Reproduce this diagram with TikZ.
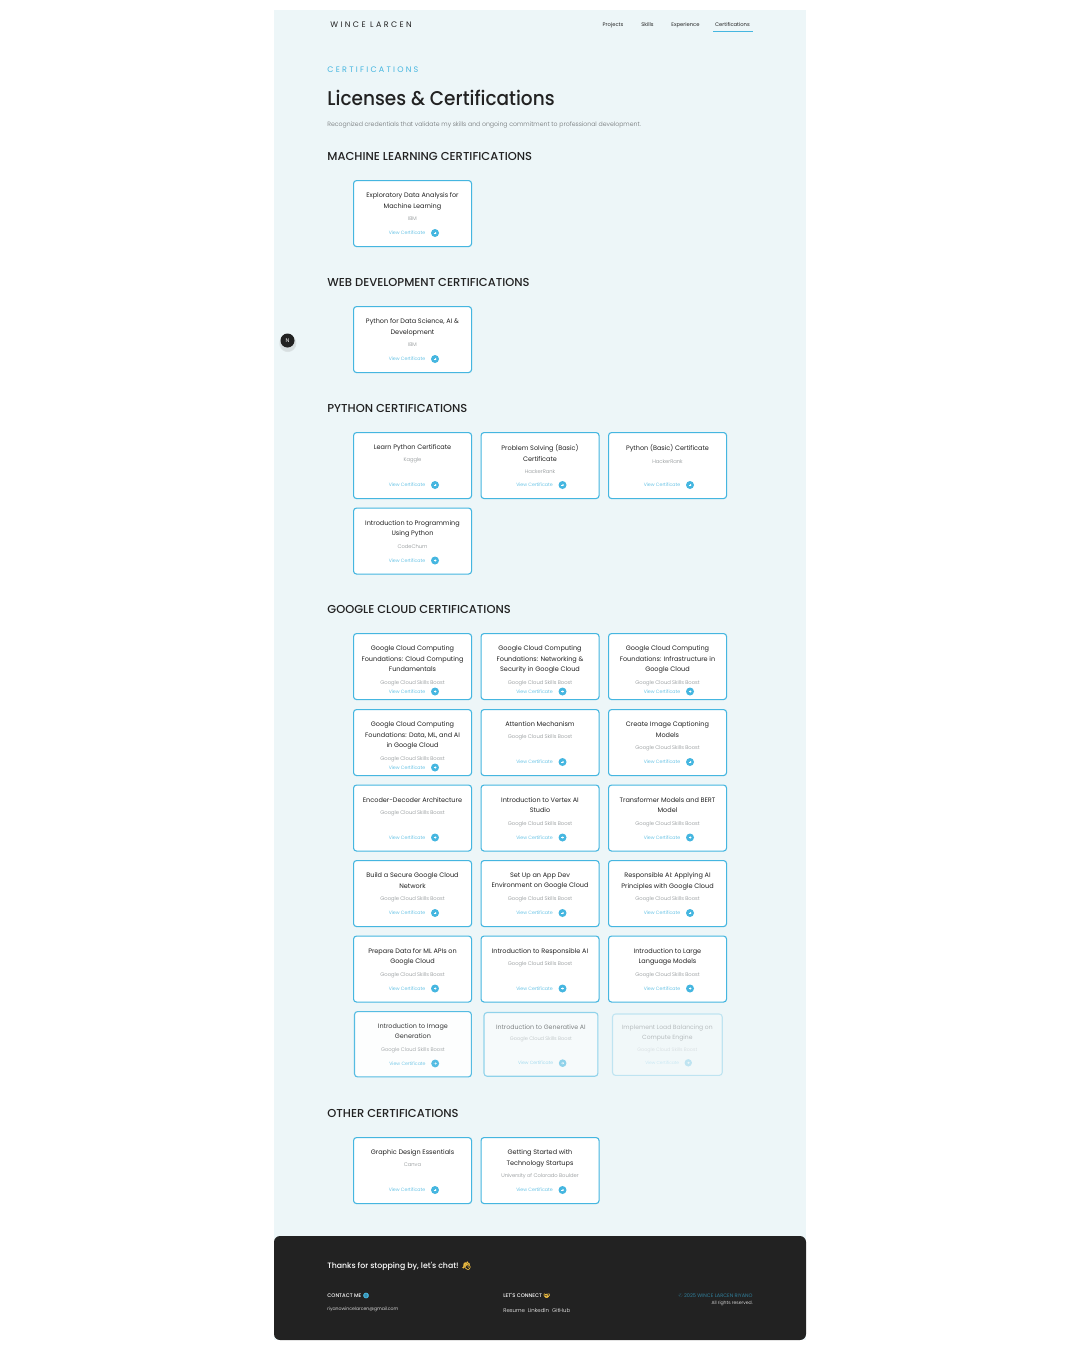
\documentclass[tikz,border=0pt]{standalone}
\usepackage{fontspec}
\setmainfont{Poppins}
\newfontfamily\mediumfont{Poppins Medium}
\newfontfamily\lightfont{Poppins Light}
\newfontfamily\emojifont[FakeBold=2]{Noto Emoji}
\usetikzlibrary{arrows.meta, positioning, shadows}
\definecolor{panelbg}{HTML}{EDF6F8}
\definecolor{inkdark}{HTML}{222222}
\definecolor{accent}{HTML}{45B6E0}
\definecolor{issuergray}{HTML}{8A8F91}
\definecolor{emojiyellow}{HTML}{F5C242}
\newcommand{\spaced}[1]{\addfontfeature{LetterSpace=#1}}

\tikzset{
    panel/.style={rectangle, fill=panelbg, draw=none, anchor=north west, minimum width=266pt, minimum height=665pt, inner sep=0},
    cardbox/.style={rectangle, rounded corners=1.5pt, draw=accent, line width=0.55pt, fill=white, anchor=north west, minimum width=59pt, minimum height=33pt, inner sep=0},
    cardtitle/.style={text=inkdark, align=center, font=\fontsize{3.25}{5.3}\selectfont, inner sep=0},
    cardissuer/.style={text=issuergray, font=\lightfont\fontsize{2.6}{3}\selectfont, inner sep=0},
    cardlink/.style={text=accent, font=\lightfont\fontsize{2.35}{3}\selectfont, inner sep=0},
    carddot/.style={circle, fill=accent, draw=none, minimum size=4pt, inner sep=0},
    sectionhead/.style={text=inkdark, anchor=west, inner sep=0, font=\mediumfont\fontsize{5.75}{6}\selectfont},
    navlink/.style={text=inkdark, inner sep=0, font=\fontsize{2.6}{3}\selectfont},
    footertext/.style={text=white, anchor=west, inner sep=0}
}

% [scope options], name, x, y, title, issuer, drop of the link under the card bottom
\newcommand{\certcard}[7][]{%
    \begin{scope}[shift={(#3,#4)}, #1]
    \node (#2) [cardbox] at (0,0) {};
    \node (#2title) [cardtitle, anchor=north] at (59.5,12.3) {#5};
    \node (#2issuer) [cardissuer, below=4pt of #2title.base] {#6};
    \node (#2link) [cardlink] at (54,{66-#7}) {View Certificate};
    \node (#2dot) [carddot] at (82,{66-#7}) {};
    \draw [white, line width=0.2pt, -{Stealth[length=0.8pt,width=1.2pt]}] (80.5,{66-#7}) -- (83.5,{66-#7});
    \end{scope}
}

\begin{document}
\begin{tikzpicture}[x=0.5pt, y=-0.5pt]
    \useasboundingbox (0,0) rectangle (1080,1350);

    % --- Page ---
    \node (page) [panel] at (274,10) {};

    % --- Header ---
    \node (brand) [text=inkdark, anchor=west, inner sep=0, font=\fontsize{4}{5}\selectfont\spaced{30}] at (330,24.5) {WINCE LARCEN};
    \node (navprojects) [navlink] at (613,24.7) {Projects};
    \node (navskills) [navlink] at (647.5,24.7) {Skills};
    \node (navexperience) [navlink] at (685.5,24.7) {Experience};
    \node (navcerts) [navlink] at (732.5,24.7) {Certifications};
    \coordinate (navstart) at (713,31);
    \coordinate (navend) at (753,31);
    \draw [accent, line width=0.4pt] (navstart) -- (navend);

    % --- Intro ---
    \node (kicker) [text=accent, anchor=west, inner sep=0, font=\fontsize{4}{5}\selectfont\spaced{28}] at (327,69.5) {CERTIFICATIONS};
    \node (pagetitle) [text=inkdark, anchor=west, inner sep=0, font=\mediumfont\fontsize{9.95}{12}\selectfont\addfontfeature{FakeStretch=0.93}] at (327,97.5) {Licenses \& Certifications};
    \node (lead) [text=issuergray!80!black, anchor=west, inner sep=0, font=\lightfont\fontsize{3.1}{4}\selectfont] at (327,124.5) {Recognized credentials that validate my skills and ongoing commitment to professional development.};

    % --- Scroll button ---
    \node (scrollbtn) [circle, fill=inkdark, text=white, minimum size=7pt, inner sep=0, circular drop shadow={shadow xshift=0pt, shadow yshift=-1pt, shadow scale=1.3, opacity=0.2}, font=\fontsize{2.7}{3}\selectfont] at (287.5,340.5) {N};

    % --- Sections ---
    \node (headml) [sectionhead] at (327,156.5) {MACHINE LEARNING CERTIFICATIONS};
    \node (headweb) [sectionhead] at (327,282.5) {WEB DEVELOPMENT CERTIFICATIONS};
    \node (headpy) [sectionhead] at (327,408.5) {PYTHON CERTIFICATIONS};
    \node (headgc) [sectionhead] at (327,609.5) {GOOGLE CLOUD CERTIFICATIONS};
    \node (headother) [sectionhead] at (327,1113.5) {OTHER CERTIFICATIONS};

    % --- Cards ---
    \certcard{ml}{353}{180}{Exploratory Data Analysis for\\Machine Learning}{IBM}{13}
    \certcard{web}{353}{306}{Python for Data Science, AI \&\\Development}{IBM}{13}

    \certcard{pya}{353}{432}{Learn Python Certificate}{Kaggle}{13}
    \certcard{pyb}{480.5}{432}{Problem Solving (Basic)\\Certificate}{HackerRank}{13}
    \certcard{pyc}{608}{432}{Python (Basic) Certificate}{HackerRank}{13}
    \certcard{pyd}{353}{507.5}{Introduction to Programming\\Using Python}{CodeChum}{13}

    \certcard{gca}{353}{633}{Google Cloud Computing\\Foundations: Cloud Computing\\Fundamentals}{Google Cloud Skills Boost}{7.5}
    \certcard{gcb}{480.5}{633}{Google Cloud Computing\\Foundations: Networking \&\\Security in Google Cloud}{Google Cloud Skills Boost}{7.5}
    \certcard{gcc}{608}{633}{Google Cloud Computing\\Foundations: Infrastructure in\\Google Cloud}{Google Cloud Skills Boost}{7.5}
    \certcard{gcd}{353}{709}{Google Cloud Computing\\Foundations: Data, ML, and AI\\in Google Cloud}{Google Cloud Skills Boost}{7.5}
    \certcard{gce}{480.5}{709}{Attention Mechanism}{Google Cloud Skills Boost}{13}
    \certcard{gcf}{608}{709}{Create Image Captioning\\Models}{Google Cloud Skills Boost}{13}
    \certcard{gcg}{353}{784.5}{Encoder-Decoder Architecture}{Google Cloud Skills Boost}{13}
    \certcard{gch}{480.5}{784.5}{Introduction to Vertex AI\\Studio}{Google Cloud Skills Boost}{13}
    \certcard{gci}{608}{784.5}{Transformer Models and BERT\\Model}{Google Cloud Skills Boost}{13}
    \certcard{gcj}{353}{860}{Build a Secure Google Cloud\\Network}{Google Cloud Skills Boost}{13}
    \certcard{gck}{480.5}{860}{Set Up an App Dev\\Environment on Google Cloud}{Google Cloud Skills Boost}{13}
    \certcard{gcl}{608}{860}{Responsible AI: Applying AI\\Principles with Google Cloud}{Google Cloud Skills Boost}{13}
    \certcard{gcm}{353}{935.5}{Prepare Data for ML APIs on\\Google Cloud}{Google Cloud Skills Boost}{13}
    \certcard{gcn}{480.5}{935.5}{Introduction to Responsible AI}{Google Cloud Skills Boost}{13}
    \certcard{gco}{608}{935.5}{Introduction to Large\\Language Models}{Google Cloud Skills Boost}{13}
    \certcard[opacity=.9, transparency group, scale=.99, transform shape]{gcp}{354}{1011}{Introduction to Image\\Generation}{Google Cloud Skills Boost}{13}
    \certcard[opacity=.55, transparency group, scale=.965, transform shape]{gcq}{483.5}{1012}{Introduction to Generative AI}{Google Cloud Skills Boost}{13}
    \certcard[opacity=.27, transparency group, scale=.93, transform shape]{gcr}{612}{1013.5}{Implement Load Balancing on\\Compute Engine}{Google Cloud Skills Boost}{13}

    \certcard{ota}{353}{1137}{Graphic Design Essentials}{Canva}{13}
    \certcard{otb}{480.5}{1137}{Getting Started with\\Technology Startups}{University of Colorado Boulder}{13}

    % --- Footer ---
    \fill [inkdark, rounded corners=3pt] (274,1236) -- (806,1236) -- (806,1340) -- (274,1340) -- cycle;
    \node (thanks) [footertext, font=\mediumfont\fontsize{3.9}{5}\selectfont] at (327,1266) {Thanks for stopping by, let's chat! {\emojifont\textcolor{emojiyellow}{👋}}};
    \node (contact) [footertext, font=\mediumfont\fontsize{2.6}{3}\selectfont] at (327,1295.5) {CONTACT ME {\emojifont\textcolor{accent}{🌐}}};
    \node (mail) [footertext, font=\lightfont\fontsize{2.3}{3}\selectfont] at (327,1309.5) {riyanowincelarcen@gmail.com};
    \node (connect) [footertext, font=\mediumfont\fontsize{2.6}{3}\selectfont] at (503,1295.5) {LET'S CONNECT {\emojifont\textcolor{emojiyellow}{🤝}}};
    \node (links) [footertext, font=\lightfont\fontsize{2.7}{3}\selectfont] at (503,1310) {Resume\ \ LinkedIn\ \ GitHub};
    \node (copyright) [text=accent!70!black, anchor=east, inner sep=0, font=\fontsize{2.5}{3}\selectfont] at (753,1295.5) {© 2025 WINCE LARCEN RIYANO};
    \node (rights) [text=white, anchor=east, inner sep=0, font=\lightfont\fontsize{2.3}{3}\selectfont] at (753,1303.5) {All rights reserved.};

\end{tikzpicture}
\end{document}
